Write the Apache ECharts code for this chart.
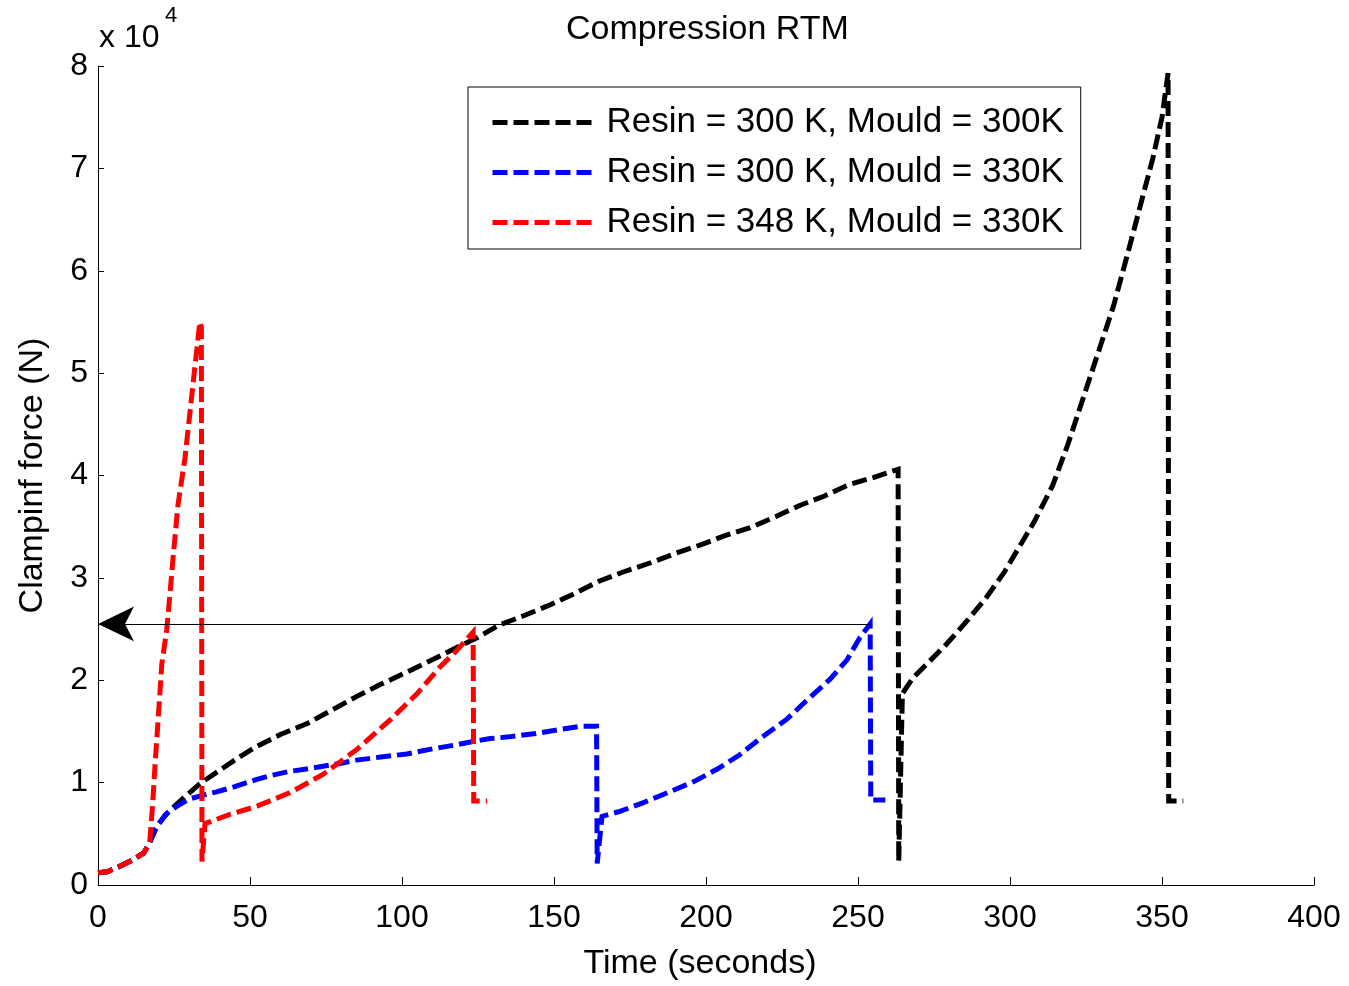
<!DOCTYPE html>
<html>
<head>
<meta charset="utf-8">
<script src="https://cdn.jsdelivr.net/npm/echarts@6/dist/echarts.min.js"></script>
<style>html,body{margin:0;padding:0;background:#fff;}#c{width:1349px;height:986px;}</style>
</head>
<body>
<div id="c"></div>
<script>
// Time (s) and clamping force (x10^4 N)
const blackT = [0,3,7,11,15,17,19,22,27,33.5,40,46,52,60,69,77,85,93,101.6,110,118,125,132,140,149,157,165,173,182,190,198,206,214.5,223,231,239,247,255,260,263.2,263.4,264.6,268,272,279,285,292,298,303,308,314,319,324,329,334,339,343,347,350,352,352.2,357];
const blackF = [0.12,0.13,0.18,0.24,0.31,0.41,0.55,0.68,0.82,0.99,1.12,1.24,1.35,1.47,1.58,1.71,1.84,1.96,2.08,2.20,2.32,2.42,2.54,2.63,2.74,2.85,2.97,3.06,3.15,3.24,3.32,3.41,3.49,3.60,3.71,3.80,3.91,3.98,4.03,4.06,0.23,1.87,2.02,2.14,2.35,2.55,2.80,3.05,3.30,3.55,3.90,4.30,4.75,5.20,5.65,6.20,6.65,7.10,7.50,7.93,0.82,0.82];

const blueT = [0,3,7,11,15,17,18,20,22.7,26,30,35,39,45,52,57,63,68,74,80,85,93,101.6,110,118,123,129,136,144,152,158.5,164,164.2,165.8,171.7,179,188,196,203.6,211,217.8,226.6,233,240.8,246.4,250.7,254,254.2,259];
const blueF = [0.12,0.13,0.18,0.24,0.31,0.41,0.50,0.60,0.70,0.77,0.84,0.88,0.91,0.96,1.03,1.07,1.11,1.13,1.16,1.19,1.22,1.25,1.28,1.33,1.37,1.40,1.43,1.45,1.48,1.52,1.55,1.55,0.21,0.67,0.72,0.80,0.91,1.01,1.13,1.27,1.43,1.62,1.80,2.01,2.20,2.42,2.55,0.83,0.83];

const redT = [0,3,7,11,15,17,18,18.8,19.7,21,22.6,23.7,24.7,26.3,28.6,30.3,31.9,33.5,34,34.2,35.2,43.4,52.3,63,74,85,96,105,112.5,118,123.4,123.6,128];
const redF = [0.12,0.13,0.18,0.24,0.31,0.41,0.80,1.19,1.58,2.16,2.49,2.85,3.20,3.71,4.17,4.63,5.07,5.50,5.45,0.23,0.60,0.69,0.77,0.90,1.08,1.32,1.61,1.87,2.13,2.29,2.47,0.82,0.82];

const seriesNames = ['Resin = 300 K, Mould = 300K','Resin = 300 K, Mould = 330K','Resin = 348 K, Mould = 330K'];
const arrowLevel = 2.55; // x10^4 N, annotation arrow
const arrowFromT = 254;
const SCALE = 10000;

function pairs(t, f){ return t.map((v,i)=>[v, f[i]*SCALE]); }

const FONT = 'Liberation Sans, Arial, sans-serif';
const chart = echarts.init(document.getElementById('c'), null, {renderer:'canvas'});
const dash = [15,6];
function mk(name, color, data, extra){
  return Object.assign({
    name, type:'line', data, symbol:'none', animation:false,
    lineStyle:{color, width:5, type:dash, cap:'butt', join:'miter'},
    itemStyle:{color}, z:3
  }, extra||{});
}
chart.setOption({
  animation:false,
  backgroundColor:'#fff',
  title:{text:'Compression RTM', left:561, top:8, textStyle:{fontFamily:FONT, fontSize:34, fontWeight:'normal', color:'#000'}},
  grid:{left:98, right:35, top:66, bottom:97, containLabel:false},
  legend:{
    orient:'vertical', left:468, top:87, padding:[18,17,9,22], itemGap:15,
    itemWidth:100, itemHeight:14, backgroundColor:'#fff', borderColor:'#000', borderWidth:1, borderRadius:0,
    itemStyle:{color:'rgba(0,0,0,0)', borderWidth:0, opacity:0},
    lineStyle:{width:5, type:dash},
    textStyle:{fontFamily:FONT, fontSize:35, color:'#000', padding:[0,0,0,9]},
    data:seriesNames
  },
  xAxis:{
    type:'value', min:0, max:400, interval:50,
    name:'Time (seconds)', nameLocation:'middle', nameGap:62,
    nameTextStyle:{fontFamily:FONT, fontSize:34, color:'#000', padding:[0,12,0,0]},
    axisLine:{show:true, onZero:false, lineStyle:{color:'#000', width:1}},
    axisTick:{show:true, inside:true, length:8, lineStyle:{color:'#000'}},
    axisLabel:{fontFamily:FONT, fontSize:32, color:'#000', margin:17, formatter:v=>String(v)},
    splitLine:{show:false}
  },
  yAxis:{
    type:'value', min:0, max:8*SCALE, interval:SCALE,
    name:'Clampinf force (N)', nameLocation:'middle', nameGap:48, nameRotate:90,
    nameTextStyle:{fontFamily:FONT, fontSize:34, color:'#000'},
    axisLine:{show:true, onZero:false, lineStyle:{color:'#000', width:1}},
    axisTick:{show:true, inside:true, length:6, lineStyle:{color:'#000'}},
    axisLabel:{fontFamily:FONT, fontSize:32, color:'#000', margin:10, formatter:v=>String(v/SCALE)},
    splitLine:{show:false}
  },
  graphic:[
    {type:'text', left:99, top:22, style:{text:'x 10', fontFamily:FONT, fontSize:32, fill:'#000'}},
    {type:'text', left:165, top:5, style:{text:'4', fontFamily:FONT, fontSize:22, fill:'#000'}}
  ],
  series:[
    mk(seriesNames[0], '#000000', pairs(blackT, blackF)),
    mk(seriesNames[1], '#0000ff', pairs(blueT, blueF), {
      markLine:{
        silent:true, animation:false, symbol:['arrow','none'], symbolSize:[26,36],
        lineStyle:{color:'#000', width:1, type:'solid'}, label:{show:false},
        data:[[{coord:[0, arrowLevel*SCALE]},{coord:[arrowFromT, arrowLevel*SCALE]}]]
      }
    }),
    mk(seriesNames[2], '#ff0000', pairs(redT, redF))
  ]
});
</script>
</body>
</html>
